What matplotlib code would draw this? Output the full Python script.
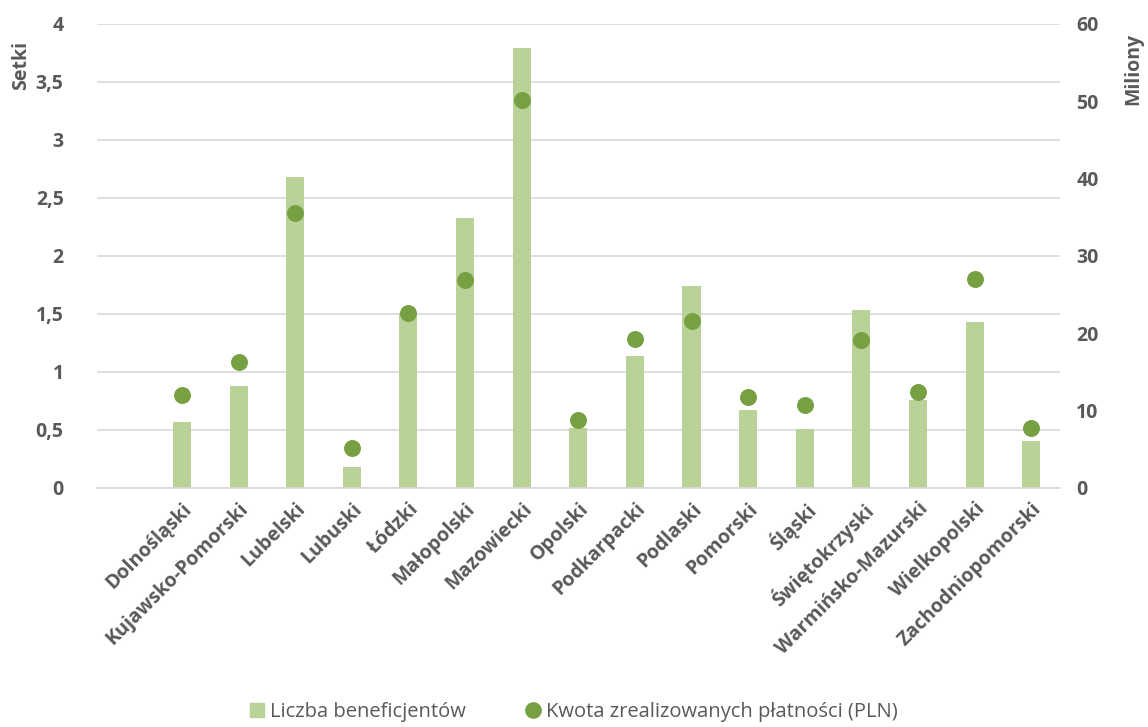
import numpy as np
import matplotlib.pyplot as plt
from matplotlib.lines import Line2D
from matplotlib.patches import Patch

plt.rcParams['font.family'] = ['Open Sans', 'DejaVu Sans']

# Województwa
wojewodztwa = ['Dolnośląski', 'Kujawsko-Pomorski', 'Lubelski', 'Lubuski', 'Łódzki',
               'Małopolski', 'Mazowiecki', 'Opolski', 'Podkarpacki', 'Podlaski',
               'Pomorski', 'Śląski', 'Świętokrzyski', 'Warmińsko-Mazurski',
               'Wielkopolski', 'Zachodniopomorski']
# Liczba beneficjentów (setki)
beneficjenci = [0.57, 0.88, 2.68, 0.18, 1.51, 2.33, 3.79, 0.52, 1.14, 1.74,
                0.67, 0.51, 1.53, 0.76, 1.43, 0.40]
# Kwota zrealizowanych płatności (miliony PLN)
kwota = [12.0, 16.3, 35.6, 5.1, 22.6, 26.9, 50.2, 8.8, 19.3, 21.6,
         11.8, 10.7, 19.1, 12.4, 27.0, 7.8]

kolor_slupka = '#B8D297'
kolor_punktu = '#77A042'
szary = '#595959'

fig = plt.figure(figsize=(11.48, 7.27), dpi=100)
ax = fig.add_axes([0.0845, 0.329, 0.8385, 0.638])
ax2 = ax.twinx()

x = np.arange(len(wojewodztwa))
ax.bar(x, beneficjenci, width=0.32, color=kolor_slupka, zorder=2)
ax2.scatter(x, kwota, s=125, color=kolor_punktu, zorder=3)

ax.set_xlim(-1.5, len(wojewodztwa) - 0.5)
ax.set_ylim(0, 4)
ax2.set_ylim(0, 60)
ax.set_yticks(np.arange(0, 4.01, 0.5))
ax.set_yticklabels(['0', '0,5', '1', '1,5', '2', '2,5', '3', '3,5', '4'])
ax2.set_yticks(np.arange(0, 61, 10))

ax.grid(axis='y', color='#D9D9D9', linewidth=1.2, zorder=0)
for a in (ax, ax2):
    for s in a.spines.values():
        s.set_visible(False)
    a.tick_params(length=0, labelsize=14, labelcolor=szary)
    for t in a.get_yticklabels():
        t.set_fontweight('bold')
ax.spines['bottom'].set_visible(True)
ax.spines['bottom'].set_color('#D9D9D9')
ax.spines['bottom'].set_linewidth(1.2)
ax.tick_params(axis='y', pad=24)
ax2.tick_params(axis='y', pad=12)

ax.set_xticks(x)
ax.set_xticklabels(wojewodztwa, rotation=45, ha='right', rotation_mode='anchor',
                   fontweight='bold', fontsize=14, color=szary)
ax.tick_params(axis='x', pad=8)

fig.text(0.018, 0.91, 'Setki', rotation=90, ha='center', va='center',
         fontsize=14, fontweight='bold', color=szary)
fig.text(0.987, 0.905, 'Miliony', rotation=90, ha='center', va='center',
         fontsize=14, fontweight='bold', color=szary)

uchwyty = [Patch(color=kolor_slupka, label='Liczba beneficjentów'),
           Line2D([], [], marker='o', linestyle='none', markersize=11,
                  color=kolor_punktu, label='Kwota zrealizowanych płatności (PLN)')]
fig.legend(handles=uchwyty, loc='lower center', ncol=2, frameon=False,
           bbox_to_anchor=(0.5, -0.018), fontsize=14.5, handlelength=0.7,
           handletextpad=0.3, columnspacing=3.0, labelcolor=szary)

fig.savefig('out.png', dpi=100)
